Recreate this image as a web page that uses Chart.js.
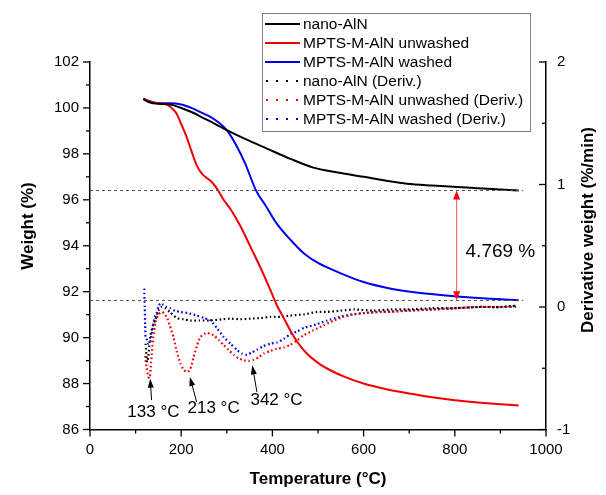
<!DOCTYPE html>
<html><head><meta charset="utf-8">
<script src="https://cdn.jsdelivr.net/npm/chart.js@4.4.1/dist/chart.umd.min.js"></script>
<style>html,body{margin:0;padding:0;background:#fff}</style>
</head><body>
<canvas id="c" width="606" height="495"></canvas>
<script>
// ---------- DATA ----------
const seriesLabels = ['nano-AlN','MPTS-M-AlN unwashed','MPTS-M-AlN washed',
  'nano-AlN (Deriv.)','MPTS-M-AlN unwashed (Deriv.)','MPTS-M-AlN washed (Deriv.)'];

const tempNano = [117,130,150,176,200,225,250,275,300,340,388,440,490,540,600,650,695,750,805,850,900,940];
const weightNano = [100.38,100.25,100.18,100.15,100.0,99.8,99.55,99.3,99.03,98.65,98.23,97.78,97.4,97.2,97.0,96.83,96.7,96.62,96.56,96.5,96.45,96.41];

const tempUnwashed = [117,130,150,168,180,190,200,212,222,234,245,256,266,278,293,308,330,352,375,395,410,425,439,455,476,500,527,560,600,650,703,750,800,850,900,940];
const weightUnwashed = [100.4,100.28,100.2,100.16,99.98,99.75,99.3,98.73,98.15,97.5,97.15,96.95,96.8,96.5,96.0,95.6,94.85,93.95,93.0,92.1,91.4,90.85,90.32,89.8,89.3,88.9,88.58,88.28,88.0,87.75,87.56,87.4,87.27,87.18,87.1,87.05];

const tempWashed = [117,130,150,175,200,225,242,260,280,300,320,340,364,385,410,440,470,500,550,600,660,720,805,870,940];
const weightWashed = [100.4,100.3,100.2,100.2,100.15,99.98,99.82,99.65,99.4,99.03,98.4,97.6,96.41,95.75,94.95,94.25,93.65,93.25,92.8,92.42,92.13,91.95,91.79,91.7,91.63];

const tempNanoD = [122,125,128,132,138,143,150,156,165,175,190,205,220,240,264,290,308,330,352,375,395,420,439,470,498,520,549,580,622,660,695,750,800,850,900,935];
const derivNano = [-0.30,-0.45,-0.40,-0.245,-0.15,-0.11,-0.03,0.0,-0.01,-0.04,-0.09,-0.10,-0.11,-0.11,-0.11,-0.10,-0.095,-0.10,-0.095,-0.09,-0.08,-0.08,-0.07,-0.06,-0.04,-0.04,-0.03,-0.02,-0.03,-0.02,-0.02,-0.01,-0.01,0.0,0.0,0.01];

const tempUnwashedD = [121,124,128,131,134,139,144,150,157,162,168,175,183,190,198,205,212,218,223,227,235,242,250,256,264,271,282,293,304,315,326,337,348,359,370,381,395,410,425,439,455,469,490,512,535,556,580,600,630,659,700,750,800,850,900,935];
const derivUnwashed = [-0.40,-0.49,-0.57,-0.58,-0.45,-0.245,-0.12,-0.06,-0.04,-0.05,-0.08,-0.15,-0.245,-0.36,-0.46,-0.51,-0.53,-0.52,-0.47,-0.41,-0.31,-0.245,-0.22,-0.21,-0.22,-0.23,-0.27,-0.31,-0.35,-0.39,-0.42,-0.435,-0.44,-0.43,-0.41,-0.38,-0.36,-0.34,-0.33,-0.31,-0.27,-0.23,-0.19,-0.15,-0.11,-0.08,-0.06,-0.05,-0.04,-0.04,-0.03,-0.02,-0.01,0.0,0.0,0.0];

const tempWashedD = [119,120,121,122,125,128,132,137,142,146,150,154,160,168,176,186,198,215,234,250,264,278,293,308,322,333,344,355,366,380,395,410,425,440,454,470,498,520,549,575,600,640,695,750,800,850,900,935];
const derivWashed = [0.15,0.0,-0.15,-0.25,-0.27,-0.30,-0.29,-0.18,-0.08,-0.05,0.0,0.03,0.02,0.0,-0.01,-0.03,-0.04,-0.05,-0.07,-0.09,-0.11,-0.17,-0.245,-0.30,-0.35,-0.38,-0.39,-0.37,-0.35,-0.32,-0.30,-0.29,-0.26,-0.22,-0.20,-0.17,-0.14,-0.11,-0.08,-0.06,-0.05,-0.04,-0.03,-0.02,-0.01,0.0,0.0,0.01];

// annotations
const refLevels = [96.41, 91.63];
const refEndT = 950;
const lossText = '4.769 %';
const lossArrowT = 804;
const lossLabelT = 900, lossLabelW = 93.73;
const peakLabels = ['133 °C','213 °C','342 °C'];
const peakLabelT = [139, 271, 409];
const peakLabelD = [-0.857, -0.827, -0.76];
const peakFromT = [135, 234, 366];
const peakFromD = [-0.76, -0.776, -0.694];
const peakToT = [132, 219, 356];
const peakToD = [-0.585, -0.571, -0.476];

// ---------- STYLE ----------
const FONT = "'Liberation Sans', Arial, sans-serif";
const BLACK = '#000000', RED = '#f00000', BLUE = '#0000f0';

function pts(xs, ys){ return xs.map((x,i)=>({x:x, y:ys[i]})); }

const solid = (label, xs, ys, color) => ({label, data: pts(xs,ys), borderColor: color, borderWidth: 2,
  yAxisID:'y', pointRadius:0, cubicInterpolationMode:'monotone', fill:false});
const dotted = (label, xs, ys, color) => ({label, data: pts(xs,ys), borderColor: color, borderWidth: 2.2,
  borderDash:[1.6,2.6], yAxisID:'y2', pointRadius:0, tension:0.2, fill:false, isDeriv:true});

function arrowHead(ctx, x1, y1, x2, y2, len, w, color){
  const a = Math.atan2(y2-y1, x2-x1);
  const bx = x2 - len*Math.cos(a), by = y2 - len*Math.sin(a);
  ctx.beginPath();
  ctx.moveTo(x2, y2);
  ctx.lineTo(bx + w*Math.sin(a), by - w*Math.cos(a));
  ctx.lineTo(bx - w*Math.sin(a), by + w*Math.cos(a));
  ctx.closePath();
  ctx.fillStyle = color; ctx.fill();
}
function seg(ctx, x1, y1, x2, y2){ ctx.beginPath(); ctx.moveTo(x1,y1); ctx.lineTo(x2,y2); ctx.stroke(); }

const overlay = {
  id:'overlay',
  afterDraw(chart){
    const ctx = chart.ctx, a = chart.chartArea;
    const xs = chart.scales.x, yl = chart.scales.y, yr = chart.scales.y2;
    ctx.save();
    // ticks
    ctx.strokeStyle = '#000'; ctx.lineWidth = 1.3;
    for (let v = xs.min; v <= xs.max + 1e-6; v += 100){
      const p = xs.getPixelForValue(v); const L = (Math.round(v) % 200 === 0) ? 7 : 4;
      seg(ctx, p, a.bottom, p, a.bottom + L);
    }
    for (let v = yl.min; v <= yl.max + 1e-6; v += 1){
      const p = yl.getPixelForValue(v); const L = (Math.round(v) % 2 === 0) ? 7 : 4;
      seg(ctx, a.left - L, p, a.left, p);
    }
    for (let v = yr.min; v <= yr.max + 1e-6; v += 0.5){
      const p = yr.getPixelForValue(v); const L = (Math.abs(v - Math.round(v)) < 1e-6) ? 7 : 4;
      seg(ctx, a.right - L, p, a.right, p);
    }
    // reference dashed lines
    ctx.strokeStyle = '#555'; ctx.lineWidth = 1; ctx.setLineDash([3,3]);
    refLevels.forEach(w => { const py = Math.round(yl.getPixelForValue(w)) + 0.5;
      seg(ctx, a.left, py, xs.getPixelForValue(refEndT), py); });
    ctx.setLineDash([]);
    // loss arrow
    const ax = xs.getPixelForValue(lossArrowT);
    const ay1 = yl.getPixelForValue(refLevels[0]), ay2 = yl.getPixelForValue(refLevels[1]);
    ctx.strokeStyle = '#f07070'; ctx.lineWidth = 1.2;
    seg(ctx, ax, ay1 + 6, ax, ay2 - 6);
    arrowHead(ctx, ax, ay1 + 20, ax, ay1, 9, 3.5, '#ff0000');
    arrowHead(ctx, ax, ay2 - 20, ax, ay2, 9, 3.5, '#ff0000');
    ctx.fillStyle = '#000'; ctx.font = '19px ' + FONT; ctx.textAlign = 'center'; ctx.textBaseline = 'middle';
    ctx.fillText(lossText, xs.getPixelForValue(lossLabelT), yl.getPixelForValue(lossLabelW));
    // peak labels
    ctx.font = '17px ' + FONT; ctx.strokeStyle = '#000'; ctx.lineWidth = 1;
    peakLabels.forEach((t,i) => {
      const x1 = xs.getPixelForValue(peakFromT[i]), y1 = yr.getPixelForValue(peakFromD[i]);
      const x2 = xs.getPixelForValue(peakToT[i]), y2 = yr.getPixelForValue(peakToD[i]);
      const ang = Math.atan2(y2-y1, x2-x1);
      seg(ctx, x1, y1, x2 - 7*Math.cos(ang), y2 - 7*Math.sin(ang));
      arrowHead(ctx, x1, y1, x2, y2, 9, 3, '#000');
      ctx.fillStyle = '#000';
      ctx.fillText(t, xs.getPixelForValue(peakLabelT[i]), yr.getPixelForValue(peakLabelD[i]));
    });
    // axis titles
    ctx.font = 'bold 17px ' + FONT; ctx.fillStyle = '#000';
    ctx.fillText('Temperature (°C)', (a.left + a.right)/2, 479);
    ctx.save(); ctx.translate(28, 226); ctx.rotate(-Math.PI/2); ctx.fillText('Weight (%)', 0, 0); ctx.restore();
    ctx.save(); ctx.translate(588, 230); ctx.rotate(-Math.PI/2); ctx.fillText('Derivative weight (%/min)', 0, 0); ctx.restore();
    // legend
    const lx = 262, ly = 13, lw = 268, lh = 118;
    ctx.fillStyle = '#fff'; ctx.fillRect(lx, ly, lw, lh);
    ctx.strokeStyle = '#808080'; ctx.lineWidth = 1; ctx.strokeRect(lx + 0.5, ly + 0.5, lw, lh);
    ctx.font = '15.5px ' + FONT; ctx.textAlign = 'left'; ctx.textBaseline = 'middle';
    chart.data.datasets.forEach((ds, i) => {
      const ry = 24 + i*19;
      ctx.strokeStyle = ds.borderColor;
      if (ds.isDeriv){ ctx.lineWidth = 2; ctx.setLineDash([2,8]); seg(ctx, 266, ry, 300, ry); ctx.setLineDash([]); }
      else { ctx.lineWidth = 2; seg(ctx, 265, ry, 300, ry); }
      ctx.fillStyle = '#000'; ctx.fillText(ds.label, 303, ry + 0.5);
    });
    ctx.restore();
  }
};

const tickFont = {family: FONT, size: 15};
const plain = v => String(v);
new Chart(document.getElementById('c'), {
  type: 'line',
  data: { datasets: [
    solid(seriesLabels[0], tempNano, weightNano, BLACK),
    solid(seriesLabels[1], tempUnwashed, weightUnwashed, RED),
    solid(seriesLabels[2], tempWashed, weightWashed, BLUE),
    dotted(seriesLabels[3], tempNanoD, derivNano, BLACK),
    dotted(seriesLabels[4], tempUnwashedD, derivUnwashed, RED),
    dotted(seriesLabels[5], tempWashedD, derivWashed, BLUE)
  ]},
  options: {
    responsive: false, animation: false, devicePixelRatio: 1,
    layout: { padding: {top: 62, left: 0, right: 0, bottom: 0} },
    plugins: { legend: {display: false}, tooltip: {enabled: false} },
    scales: {
      x: { type: 'linear', position: 'bottom', min: 0, max: 1000,
        ticks: {stepSize: 200, color: '#000', font: tickFont, padding: 11, maxRotation: 0, autoSkip: false, callback: plain},
        grid: {display: true, drawOnChartArea: false, drawTicks: false},
        border: {display: true, color: '#000', width: 1.5},
        afterFit(s){ s.height = 65.5; } },
      y: { type: 'linear', position: 'left', min: 86, max: 102,
        ticks: {stepSize: 2, color: '#000', font: tickFont, padding: 11, autoSkip: false, callback: plain},
        grid: {display: true, drawOnChartArea: false, drawTicks: false},
        border: {display: true, color: '#000', width: 1.5},
        afterFit(s){ s.width = 90; } },
      y2: { type: 'linear', position: 'right', min: -1, max: 2,
        ticks: {stepSize: 1, color: '#000', font: tickFont, padding: 11, autoSkip: false, callback: plain},
        grid: {display: true, drawOnChartArea: false, drawTicks: false},
        border: {display: true, color: '#000', width: 1.5},
        afterFit(s){ s.width = 60; } }
    }
  },
  plugins: [overlay]
});
</script>
</body></html>
